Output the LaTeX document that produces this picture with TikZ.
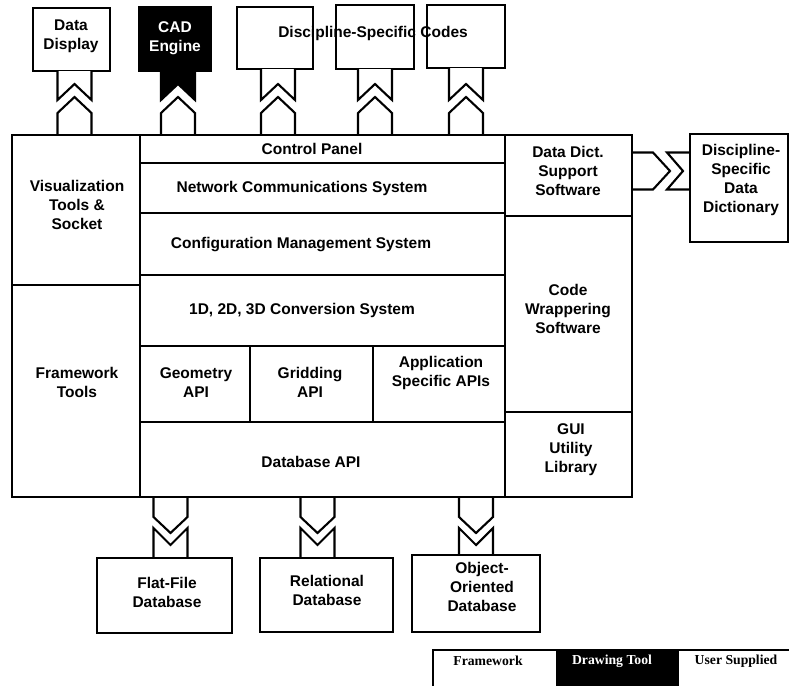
\documentclass[tikz,border=0pt]{standalone}
\usepackage{fontspec}
\setmainfont{Liberation Sans}
\newfontfamily\legendfont{Liberation Serif}

% rectangle node given by its top-left and bottom-right corners (pixel units, y down)
\newcommand\boxat[6][]{%
  \node[box,#1,minimum width={(#5)-(#3)},minimum height={(#6)-(#4)}] (#2) at (#3,#4) {};}

% connector between an outside box above and the framework top edge
% #1 fill of the notched stub, #2 box name, #3 horizontal offset
\newcommand\upconn[3][white]{%
  \filldraw[conn,fill=#1] ([xshift=#3pt-17pt]#2.south) -- ([xshift=#3pt-17pt]#2.south |- nb)
    -- ([xshift=#3pt]#2.south |- na) -- ([xshift=#3pt+17pt]#2.south |- nb)
    -- ([xshift=#3pt+17pt]#2.south);
  \draw[conn] ([xshift=#3pt-17pt]#2.south |- cp.north) -- ([xshift=#3pt-17pt]#2.south |- hs)
    -- ([xshift=#3pt]#2.south |- ha) -- ([xshift=#3pt+17pt]#2.south |- hs)
    -- ([xshift=#3pt+17pt]#2.south |- cp.north);}

% connector between the framework bottom edge and an outside box below
\newcommand\downconn[2]{%
  \draw[conn] ([xshift=#2pt-17pt]#1.north |- dbapi.south) -- ([xshift=#2pt-17pt]#1.north |- bs)
    -- ([xshift=#2pt]#1.north |- ba) -- ([xshift=#2pt+17pt]#1.north |- bs)
    -- ([xshift=#2pt+17pt]#1.north |- dbapi.south);
  \draw[conn] ([xshift=#2pt-17pt]#1.north) -- ([xshift=#2pt-17pt]#1.north |- ms)
    -- ([xshift=#2pt]#1.north |- ma) -- ([xshift=#2pt+17pt]#1.north |- ms)
    -- ([xshift=#2pt+17pt]#1.north);}

\begin{document}
\begin{tikzpicture}[x=1pt,y=-1pt,
  box/.style={draw,line width=2.1pt,inner sep=0pt,outer sep=0pt,anchor=north west},
  lbox/.style={draw,line width=1.3pt,inner sep=0pt,outer sep=0pt,anchor=north west},
  conn/.style={line width=2.1pt,line join=miter},
  txt/.style={font=\fontsize{15.5}{19}\selectfont\bfseries,align=center,inner sep=0pt},
  ltxt/.style={font=\legendfont\fontsize{13.7}{16}\selectfont\bfseries,inner sep=0pt}]

\fill[white] (0,0) rectangle (789,685);
\useasboundingbox (0,0) rectangle (789,685);

% levels of the connector shapes
\coordinate (nb) at (0,100);
\coordinate (na) at (0,84);
\coordinate (ha) at (0,97);
\coordinate (hs) at (0,113);
\coordinate (bs) at (0,517);
\coordinate (ba) at (0,533);
\coordinate (ms) at (0,528);
\coordinate (ma) at (0,545);

% outside boxes on top
\boxat{dd}{33}{8}{110}{71}
\boxat[fill=black]{cad}{139}{7}{211}{71}
\boxat{c1}{237}{7}{313}{69}
\boxat{c2}{336}{5}{414}{69}
\boxat{c3}{427}{5}{505}{68}

% framework block
\boxat{vis}{12}{135}{140}{285}
\boxat{fw}{12}{285}{140}{497}
\boxat{cp}{140}{135}{505}{163}
\boxat{net}{140}{163}{505}{213}
\boxat{cfg}{140}{213}{505}{275}
\boxat{conv}{140}{275}{505}{346}
\boxat{geo}{140}{346}{250}{422}
\boxat{grid}{250}{346}{373}{422}
\boxat{app}{373}{346}{505}{422}
\boxat{dbapi}{140}{422}{505}{497}
\boxat{ddss}{505}{135}{632}{216}
\boxat{cws}{505}{216}{632}{412}
\boxat{gui}{505}{412}{632}{497}

% data dictionary on the right
\boxat{dsdd}{690}{134}{788}{242}

% databases below
\boxat{ff}{97}{558}{232}{633}
\boxat{rel}{260}{558}{393}{632}
\boxat{oo}{412}{555}{540}{632}

% connectors
\upconn{dd}{3}
\upconn[black]{cad}{3}
\upconn{c1}{3}
\upconn{c2}{0}
\upconn{c3}{0}
\downconn{ff}{6}
\downconn{rel}{-9}
\downconn{oo}{0}

\coordinate (rA) at (653,0);
\coordinate (rB) at (670,0);
\coordinate (rC) at (667,0);
\coordinate (rD) at (683,0);
\coordinate (rT) at (0,152.5);
\coordinate (rM) at (0,171);
\coordinate (rL) at (0,189.5);
\draw[conn] (ddss.east |- rT) -- (rA |- rT) -- (rB |- rM) -- (rA |- rL) -- (ddss.east |- rL);
\draw[conn] (dsdd.west |- rT) -- (rC |- rT) -- (rD |- rM) -- (rC |- rL) -- (dsdd.west |- rL);

% labels
\node[txt] (tdd) at (71,36) {Data\\Display};
\node[txt,text=white] (tcad) at (175,38) {CAD\\Engine};
\node[txt] (tcodes) at (373,33) {Discipline-Specific Codes};
\node[txt] (tvis) at (77,205) {Visualization\\Tools \&\\Socket};
\node[txt] (tfw) at (77,382) {Framework\\Tools};
\node[txt] (tcp) at (312,149) {Control Panel};
\node[txt] (tnet) at (302,188) {Network Communications System};
\node[txt] (tcfg) at (301,245) {Configuration Management System};
\node[txt] (tconv) at (302,310) {1D, 2D, 3D Conversion System};
\node[txt] (tgeo) at (196,383) {Geometry\\API};
\node[txt] (tgrid) at (310,382) {Gridding\\API};
\node[txt] (tapp) at (441,373) {Application\\Specific APIs};
\node[txt] (tdb) at (311,462) {Database API};
\node[txt] (tddss) at (568,171) {Data Dict.\\Support\\Software};
\node[txt] (tcws) at (568,309) {Code\\Wrappering\\Software};
\node[txt] (tgui) at (571,450) {GUI\\Utility\\Library};
\node[txt] (tdsdd) at (741,180) {Discipline-\\Specific\\Data\\Dictionary};
\node[txt] (tff) at (167,592) {Flat-File\\Database};
\node[txt] (trel) at (327,590) {Relational\\Database};
\node[txt] (too) at (482,587) {Object-\\Oriented\\Database};

% legend
\boxat[lbox]{lf}{433}{650}{557}{700}
\boxat[lbox,fill=black]{ld}{557}{650}{678}{700}
\boxat[lbox]{lu}{678}{650}{800}{700}
\node[ltxt] (tlf) at (488,661) {Framework};
\node[ltxt,text=white] (tld) at (612,661) {Drawing Tool};
\node[ltxt] (tlu) at (736,661) {User Supplied};
\end{tikzpicture}
\end{document}
